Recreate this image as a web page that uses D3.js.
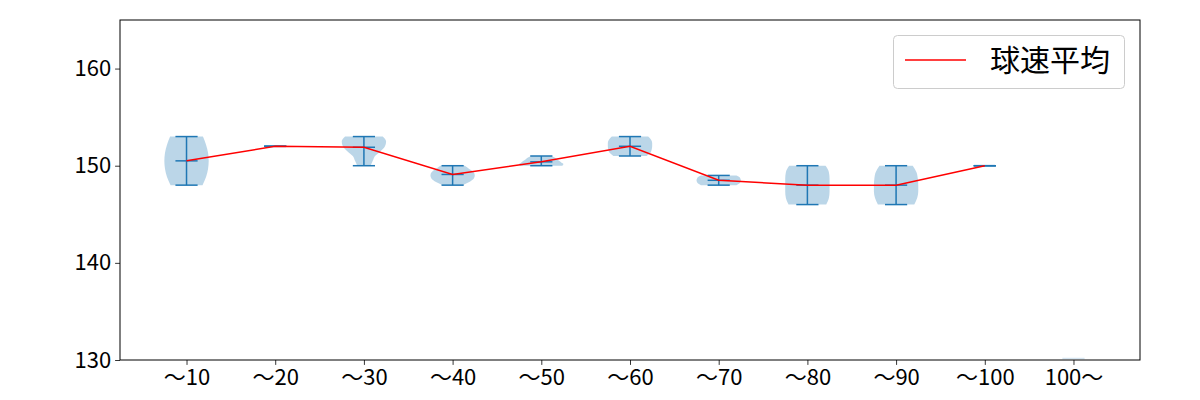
<!DOCTYPE html>
<html>
<head>
<meta charset="utf-8">
<script src="https://cdn.jsdelivr.net/npm/d3@7"></script>
<style>
  html, body { margin: 0; padding: 0; background: #fff; }
  svg { display: block; }
  text { font-family: "Noto Sans CJK JP", "Noto Sans", sans-serif; }
</style>
</head>
<body>
<svg id="chart" width="1200" height="400"></svg>
<script>
// ---- data ----
const categories = ["〜10", "〜20", "〜30", "〜40", "〜50", "〜60", "〜70", "〜80", "〜90", "〜100", "100〜"];
const minSpeed  = [148, 152, 150, 148, 150, 151, 148, 146, 146, 150, 130];
const maxSpeed  = [153, 152, 153, 150, 151, 153, 149, 150, 150, 150, 130];
const meanSpeed = [150.5, 152, 151.9, 149.1, 150.4, 152, 148.5, 148, 148, 150, null];
// relative violin half-widths sampled evenly from min (first) to max (last)
const violinDensity = [
  [0.72, 0.88, 0.97, 1.0, 0.97, 0.88, 0.74],
  null,
  [0.3, 0.4, 0.5, 0.75, 0.95, 1.0, 0.85],
  [0.45, 0.75, 0.95, 1.0, 0.95, 0.75, 0.55],
  [0.95, 1.0, 0.9, 0.8, 0.7, 0.6, 0.45],
  [0.75, 0.92, 0.98, 1.0, 1.0, 0.95, 0.82],
  [0.8, 0.93, 0.98, 1.0, 0.98, 0.93, 0.8],
  [0.85, 0.97, 1.0, 1.0, 1.0, 0.97, 0.82],
  [0.82, 0.95, 1.0, 1.0, 0.98, 0.92, 0.75],
  null,
  null
];
const yTicks = [130, 140, 150, 160];
const legendLabel = "球速平均";

// ---- layout ----
const m = { left: 120, right: 1140, top: 20, bottom: 360 };
const svg = d3.select("#chart");

const x = d3.scaleLinear().domain([0.25, categories.length + 0.75]).range([m.left, m.right]);
const y = d3.scaleLinear().domain([130, 165]).range([m.bottom, m.top]);
const violinWidth = 0.5; // in category units
const halfW = x(1 + violinWidth / 2) - x(1);
const capHalf = x(1 + violinWidth / 4) - x(1);

svg.append("defs").append("clipPath").attr("id", "clip")
  .append("rect").attr("x", m.left).attr("y", m.top)
  .attr("width", m.right - m.left).attr("height", m.bottom - m.top);

const plot = svg.append("g").attr("clip-path", "url(#clip)");

// violin bodies
categories.forEach((c, i) => {
  const dens = violinDensity[i];
  if (!dens) return;
  const cx = x(i + 1);
  const lo = minSpeed[i], hi = maxSpeed[i];
  const pts = dens.map((d, k) => ({ v: lo + (hi - lo) * k / (dens.length - 1), d }));
  const area = d3.area()
    .y(p => y(p.v))
    .x0(p => cx - p.d * halfW)
    .x1(p => cx + p.d * halfW)
    .curve(d3.curveMonotoneY);
  plot.append("path")
    .attr("d", area(pts))
    .attr("fill", "#1f77b4")
    .attr("fill-opacity", 0.3)
    .attr("stroke", "none");
});

// bars & caps
const blue = "#1f77b4";
categories.forEach((c, i) => {
  const cx = x(i + 1);
  const lo = minSpeed[i], hi = maxSpeed[i], mu = meanSpeed[i];
  const last = i === categories.length - 1;
  const g = plot.append("g").attr("stroke", last ? "#d5e5f1" : blue)
    .attr("stroke-width", 1.5);
  if (last) {
    g.append("line").attr("x1", cx - capHalf).attr("x2", cx + capHalf)
      .attr("y1", y(lo) - 1.5).attr("y2", y(lo) - 1.5);
    return;
  }
  if (hi > lo) {
    g.append("line").attr("x1", cx).attr("x2", cx).attr("y1", y(lo)).attr("y2", y(hi));
  }
  [lo, hi, mu].forEach(v => {
    if (v == null) return;
    g.append("line").attr("x1", cx - capHalf).attr("x2", cx + capHalf)
      .attr("y1", y(v)).attr("y2", y(v));
  });
});

// mean line
const meanPts = meanSpeed.map((v, i) => ({ i, v })).filter(p => p.v != null);
plot.append("path")
  .attr("d", d3.line().x(p => x(p.i + 1)).y(p => y(p.v))(meanPts))
  .attr("fill", "none").attr("stroke", "red").attr("stroke-width", 1.5);

// axes
const yAxis = svg.append("g").attr("transform", `translate(${m.left},0)`)
  .call(d3.axisLeft(y).tickValues(yTicks).tickSize(4.9).tickPadding(4).tickFormat(d3.format("d")));
const xAxis = svg.append("g").attr("transform", `translate(0,${m.bottom})`)
  .call(d3.axisBottom(x).tickValues(d3.range(1, categories.length + 1)).tickSize(4.9).tickPadding(4)
    .tickFormat(d => categories[d - 1]));
[xAxis, yAxis].forEach(a => {
  a.select(".domain").remove();
  a.selectAll(".tick line").attr("stroke", "#000").attr("stroke-width", 0.8);
  a.selectAll(".tick text").attr("fill", "#000").style("font-size", "22px");
});

// frame
svg.append("rect").attr("x", m.left).attr("y", m.top)
  .attr("width", m.right - m.left).attr("height", m.bottom - m.top)
  .attr("fill", "none").attr("stroke", "#000").attr("stroke-width", 1);

// legend
const lg = svg.append("g");
lg.append("rect").attr("x", 893.5).attr("y", 35.5).attr("width", 231).attr("height", 53)
  .attr("rx", 4).attr("fill", "#fff").attr("fill-opacity", 0.8)
  .attr("stroke", "#ccc").attr("stroke-width", 1);
lg.append("line").attr("x1", 905).attr("x2", 966).attr("y1", 60).attr("y2", 60)
  .attr("stroke", "red").attr("stroke-width", 1.5);
lg.append("text").attr("x", 990).attr("y", 60).attr("dy", "0.35em")
  .style("font-size", "30px").attr("fill", "#000").text(legendLabel);
</script>
</body>
</html>
